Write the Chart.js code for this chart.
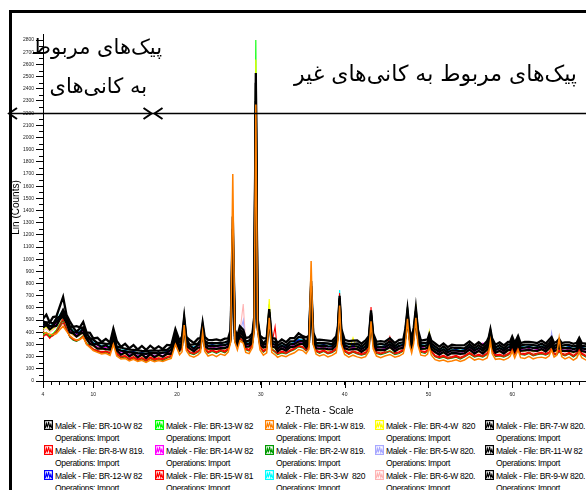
<!DOCTYPE html>
<html>
<head>
<meta charset="utf-8">
<script src="https://cdn.jsdelivr.net/npm/chart.js@4.4.1/dist/chart.umd.min.js"></script>
<style>
  html, body { margin: 0; padding: 0; width: 586px; height: 490px; overflow: hidden; background: #fff; }
  #frame { position: absolute; left: 9px; top: 10px; width: 640px; height: 520px;
           border-left: 3px solid #000; border-top: 3px solid #000; }
  #plot { position: absolute; left: 0; top: 0; }
  .fa { position: absolute; font-family: "DejaVu Sans", sans-serif; font-size: 21px;
        direction: rtl; white-space: nowrap; color: #000; line-height: 1; }
  .lg { position: absolute; font-family: "Liberation Sans", Arial, sans-serif; font-size: 8.5px;
        letter-spacing: -0.35px; line-height: 12.5px; color: #000; white-space: pre; }
  .lg svg { position: absolute; left: 0; top: 0; }
  .lg .txt { position: absolute; left: 11px; top: 0; }
</style>
</head>
<body>
<div id="frame"></div>
<canvas id="plot" width="596" height="420"></canvas>
<div class="fa" id="noteLeft1" style="right:424px; top:37px;">پیک‌های مربوط</div>
<div class="fa" id="noteLeft2" style="right:439px; top:76px;">به کانی‌های</div>
<div class="fa" id="noteRight" style="right:9px; top:63px; font-size:22px;">پیک‌های مربوط به کانی‌های غیر</div>
<div id="legend"></div>
<script>
// 2-theta positions (degrees) shared by every scan
const twoTheta = [
  4.0,4.4,4.8,5.2,5.6,6.0,6.4,6.8,7.2,7.6,
  8.0,8.4,8.8,9.2,9.6,10.0,10.5,11.0,11.5,12.0,
  12.4,12.8,13.3,13.8,14.3,14.8,15.3,15.8,16.3,16.8,
  17.3,17.8,18.3,18.8,19.3,19.8,20.3,20.6,20.85,21.1,
  21.5,22.0,22.5,22.8,23.05,23.3,23.7,24.2,24.7,25.2,
  25.7,26.1,26.4,26.65,26.9,27.2,27.5,27.9,28.2,28.6,
  29.0,29.2,29.4,29.6,29.9,30.3,30.7,31.0,31.3,31.7,
  32.0,32.5,33.0,33.5,34.0,34.5,35.0,35.4,35.75,36.0,
  36.25,36.6,37.0,37.5,38.0,38.5,39.0,39.2,39.4,39.6,
  40.0,40.5,41.0,41.5,42.0,42.5,42.9,43.15,43.4,43.8,
  44.3,44.8,45.4,46.0,46.5,47.0,47.25,47.5,47.75,48.0,
  48.25,48.5,48.75,49.1,49.6,49.9,50.1,50.35,50.8,51.3,
  51.8,52.3,52.8,53.3,53.8,54.3,54.9,55.5,56.0,56.5,
  57.0,57.2,57.4,57.6,58.0,58.5,59.0,59.5,59.75,60.0,
  60.3,60.7,61.0,61.5,62.0,62.5,63.0,63.5,64.0,64.4,
  64.7,65.0,65.3,65.6,65.9,66.3,66.8,67.3,67.7,68.0,
  68.3,68.8,69.3,70.0
];

// Lin (Counts) for each sample, one value per twoTheta position
const br10 = [
  510,545,480,525,530,610,690,545,490,445, 450,440,485,400,395,350,355,320,345,315,
  430,330,280,305,268,296,258,288,255,290, 262,285,262,296,292,425,330,368,530,362,
  338,312,348,352,480,362,338,336,342,332, 348,350,420,1350,420,372,450,420,352,360,
  392,520,2530,520,372,350,352,590,352,348, 312,342,318,352,352,392,368,358,372,820,
  400,338,340,336,332,328,368,450,700,430, 338,328,332,334,306,334,370,580,390,322,
  328,322,352,312,338,342,430,590,420,352, 440,600,420,332,338,342,385,332,308,282,
  308,278,298,292,292,294,325,292,318,292, 328,360,425,350,298,318,292,322,322,365,
  312,370,312,322,322,318,312,332,308,338, 360,312,322,345,312,318,318,306,314,355,
  312,306,302,300
];
const br13 = [
  380,400,370,390,420,470,520,440,370,345, 335,350,375,310,290,262,250,238,245,232,
  330,225,200,205,182,196,175,188,170,190, 176,185,178,196,205,330,248,270,540,275,
  238,226,245,265,390,275,238,250,236,252, 242,265,325,1200,325,285,355,330,266,255,
  305,460,2800,460,285,245,265,630,268,246, 225,240,230,250,265,290,280,255,285,720,
  305,250,235,250,230,240,265,355,650,335, 250,226,245,230,220,230,275,500,295,236,
  225,236,250,226,236,255,335,540,325,265, 345,560,325,245,236,255,330,245,205,195,
  205,190,196,205,190,205,230,205,215,205, 225,265,330,255,210,215,205,220,235,270,
  225,275,226,220,235,215,225,230,220,235, 265,225,220,250,226,215,230,205,225,260,
  225,205,215,200
];
const br1 = [
  400,395,385,380,390,420,450,410,370,350, 335,340,360,300,275,250,235,222,228,210,
  300,205,180,185,165,178,160,170,152,172, 158,168,160,175,185,300,215,240,460,250,
  208,196,215,235,400,245,205,218,200,222, 210,238,320,1700,320,255,330,310,235,225,
  275,420,2270,420,255,212,232,520,235,215, 195,210,200,218,232,258,250,225,262,985,
  300,220,205,218,198,210,232,330,620,300, 218,195,212,198,190,200,245,490,265,205,
  192,205,218,195,205,225,300,510,295,230, 310,520,295,212,205,222,280,212,175,165,
  172,158,165,175,160,172,200,172,182,172, 190,232,330,225,178,182,172,188,202,245,
  190,255,192,185,202,182,192,196,188,205, 255,196,210,353,200,182,196,172,190,235,
  192,172,180,165
];
const br4 = [
  425,445,415,430,455,500,525,465,400,380, 368,378,400,338,312,286,272,260,266,252,
  348,246,220,226,206,218,198,210,192,212, 198,206,200,216,228,345,265,285,480,295,
  258,246,266,282,400,292,256,270,256,272, 262,286,345,1120,345,305,380,355,286,276,
  326,450,2640,450,305,268,286,673,286,268, 248,262,254,272,286,310,302,278,306,730,
  326,272,258,272,252,262,286,380,660,355, 272,248,355,252,242,252,296,530,316,258,
  248,258,272,248,258,276,356,530,346,288, 380,632,380,268,258,300,405,290,232,222,
  232,218,224,232,218,232,256,232,240,232, 248,288,356,278,236,240,232,244,258,296,
  248,298,250,244,258,240,250,254,244,258, 288,250,244,272,250,240,254,232,248,284,
  250,232,240,226
];
const br7 = [
  490,480,485,470,515,530,585,530,450,440, 405,432,440,392,352,338,312,312,305,306,
  395,282,275,265,258,255,252,248,246,250, 252,248,255,255,282,390,318,328,505,352,
  298,300,308,338,455,332,312,310,310,312, 318,328,395,1250,395,358,420,395,322,333,
  365,495,2450,495,358,308,340,565,328,320, 288,315,292,326,328,362,356,318,360,780,
  372,310,312,310,308,302,342,425,680,405, 310,305,305,308,282,308,345,560,365,298,
  304,298,326,288,312,318,405,565,395,342, 410,575,395,308,312,318,360,308,285,258,
  284,255,276,270,270,268,302,270,294,268, 304,335,405,325,275,294,268,300,298,340,
  288,345,290,298,298,295,290,308,285,312, 335,288,298,320,290,294,294,284,290,330,
  288,284,280,278
];
const br8 = [
  360,390,350,380,410,460,510,430,365,340, 330,345,370,305,285,258,246,234,240,228,
  325,222,195,202,178,192,172,184,165,186, 172,182,175,192,202,325,245,265,500,270,
  234,222,240,262,385,270,234,248,232,250, 238,262,322,1180,322,280,350,325,262,250,
  300,455,2400,455,280,240,262,590,262,242, 222,236,226,246,262,286,276,250,280,730,
  300,246,232,246,226,236,262,350,722,330, 246,222,240,226,216,226,272,607,290,232,
  222,232,246,222,232,250,330,560,322,262, 340,560,322,242,232,250,322,240,202,192,
  202,186,192,202,186,202,226,202,210,202, 222,262,326,250,206,210,202,216,230,266,
  222,270,222,216,230,210,222,226,216,230, 262,222,216,246,222,210,226,202,222,256,
  222,202,210,196
];
const br14 = [
  440,460,425,445,470,515,540,480,415,392, 380,390,412,350,322,296,282,270,276,262,
  360,256,230,236,215,228,206,218,200,222, 208,216,210,226,238,355,275,295,470,305,
  268,256,276,292,415,302,266,280,266,282, 272,296,355,1100,355,315,385,360,296,286,
  336,455,2300,455,315,278,296,530,296,278, 258,272,264,282,296,320,312,288,316,750,
  336,282,268,282,262,272,296,385,650,365, 282,258,278,262,252,262,305,530,325,268,
  258,268,282,258,268,286,365,530,355,298, 375,540,355,278,268,286,325,278,240,230,
  240,226,232,240,226,240,265,240,248,312, 258,298,365,288,244,248,240,254,268,304,
  258,308,260,254,268,250,260,264,254,268, 298,260,254,282,260,250,264,240,258,294,
  260,240,250,236
];
const br2 = [
  370,385,360,375,400,450,500,425,360,335, 325,340,365,300,280,255,242,230,236,222,
  322,218,190,198,172,188,165,180,160,182, 166,176,168,186,198,320,240,262,520,265,
  228,216,236,255,380,265,228,242,226,244, 232,256,318,1150,318,276,345,320,256,245,
  296,450,2350,450,276,236,256,600,258,236, 216,230,222,242,256,280,272,246,276,700,
  296,242,226,242,222,232,256,345,640,325, 242,218,236,222,212,222,266,520,286,226,
  216,226,242,216,226,246,330,607,318,256, 336,580,318,236,226,246,320,236,198,186,
  196,182,188,196,180,196,222,196,206,196, 216,256,320,246,200,206,196,212,226,262,
  216,266,218,212,226,206,216,222,212,226, 256,216,212,242,218,206,222,196,216,252,
  216,196,206,192
];
const br5 = [
  430,450,420,435,460,505,530,470,405,385, 372,382,405,342,316,290,276,264,270,256,
  352,250,225,230,210,222,200,212,196,216, 202,210,205,220,232,350,270,290,465,300,
  262,250,270,286,405,296,260,275,260,276, 266,290,350,1080,350,315,390,500,290,280,
  330,445,2000,445,310,272,290,520,290,272, 252,266,258,276,290,314,306,282,310,740,
  330,276,262,276,256,266,290,380,640,360, 276,252,272,256,246,256,300,520,320,262,
  252,262,276,252,262,280,360,525,350,292, 370,535,350,272,262,280,320,272,235,225,
  235,220,226,235,220,235,260,235,242,235, 252,292,360,282,238,242,235,248,262,300,
  252,302,254,248,262,244,254,258,248,262, 397,254,248,276,254,244,258,235,252,288,
  254,235,244,230
];
const br11 = [
  462,478,448,458,488,512,555,492,438,402, 400,394,430,358,340,304,300,280,294,270,
  380,262,250,244,236,234,228,226,224,230, 230,226,234,234,258,370,284,316,480,314,
  290,266,296,299,430,312,288,289,286,292, 294,306,370,1150,370,324,400,375,304,306,
  344,470,2300,470,324,298,304,540,306,298, 266,291,270,301,304,324,331,296,336,740,
  350,290,288,290,284,282,316,400,660,380, 290,281,284,284,262,284,322,540,345,276,
  278,276,302,266,288,294,380,540,372,306, 385,550,372,286,288,294,340,286,261,239,
  260,234,252,250,246,248,280,249,270,248, 280,312,385,302,254,270,248,276,278,320,
  268,320,270,274,278,272,270,284,264,290, 315,268,276,298,270,270,272,262,268,310,
  268,262,258,256
];
const br12 = [
  455,475,445,460,485,530,560,500,430,405, 392,405,430,362,338,312,298,286,292,278,
  378,272,246,252,230,244,222,234,216,238, 224,232,226,244,254,372,292,312,480,322,
  286,274,294,310,430,320,284,298,284,300, 290,314,372,1150,372,334,405,380,314,302,
  352,472,2200,472,334,296,314,545,314,296, 276,290,282,300,314,338,330,306,334,760,
  352,300,286,300,280,290,314,400,680,384, 300,276,296,280,270,280,325,545,345,286,
  276,286,300,276,286,304,385,545,375,316, 392,555,375,296,286,304,345,296,258,248,
  258,244,250,258,244,258,282,258,266,258, 276,316,385,306,262,266,258,272,286,322,
  276,326,278,272,286,268,278,282,272,286, 316,278,272,300,278,268,282,258,276,312,
  278,258,268,254
];
const br15 = [
  375,380,360,372,395,440,480,420,362,342, 334,342,362,305,288,262,250,240,245,234,
  330,230,202,208,186,200,180,192,176,196, 182,190,184,200,212,330,252,272,505,278,
  240,230,248,268,390,276,242,255,240,258, 246,268,330,1150,330,288,355,330,270,258,
  308,440,2150,440,288,250,270,580,300,446, 230,245,235,255,270,292,282,258,288,740,
  308,255,240,255,235,245,270,360,690,340, 255,230,248,235,225,235,280,560,298,240,
  230,240,364,230,240,258,338,545,330,270, 348,545,330,250,240,258,330,250,210,200,
  210,195,200,210,195,210,235,210,220,210, 230,270,335,258,215,220,210,225,238,275,
  230,278,230,225,238,220,230,235,225,238, 270,230,225,255,230,220,235,210,230,265,
  230,210,220,205
];
const br3 = [
  465,480,450,470,495,545,580,510,440,415, 400,412,438,370,345,318,304,292,298,284,
  385,278,252,258,236,250,228,240,222,244, 230,238,232,250,260,380,298,318,490,328,
  292,280,300,316,440,326,290,304,290,306, 296,320,380,1200,380,340,410,386,320,308,
  358,480,2100,480,340,302,320,555,320,302, 282,296,288,306,320,344,336,312,340,790,
  358,306,292,306,286,296,320,420,747,400, 306,282,302,286,276,286,332,550,352,292,
  282,292,306,282,292,310,392,555,382,322, 400,565,382,302,292,310,352,302,264,254,
  264,250,256,264,250,264,288,264,272,264, 282,322,392,312,268,272,264,278,292,328,
  282,332,284,278,292,274,284,288,278,292, 322,284,278,306,284,274,288,264,282,318,
  284,264,274,260
];
const br6 = [
  410,430,400,420,445,490,515,455,392,372, 360,370,392,330,305,280,266,254,260,246,
  342,240,215,220,200,212,192,204,186,206, 192,200,195,210,222,340,260,280,455,290,
  252,240,260,276,395,286,250,265,250,266, 256,280,340,1050,345,330,400,632,300,270,
  320,430,1900,430,300,262,280,510,280,262, 242,256,248,266,280,304,296,272,300,720,
  320,266,252,266,246,256,280,370,630,350, 266,242,262,246,236,246,290,510,310,252,
  242,252,266,242,252,270,350,515,340,282, 360,525,340,262,252,270,310,262,225,215,
  225,210,216,225,210,225,250,225,232,225, 242,282,350,272,228,232,225,238,252,290,
  242,292,244,238,252,234,244,248,238,252, 282,244,238,266,244,234,248,225,242,278,
  244,225,234,220
];
const br9 = [
  438,462,424,446,454,506,530,476,399,391, 366,386,399,346,306,294,266,268,262,258,
  350,251,216,234,202,224,194,218,190,221, 196,216,199,224,224,345,259,291,455,292,
  268,244,274,276,405,289,266,266,264,269, 271,282,345,1050,345,299,375,350,282,284,
  322,445,2200,445,302,276,282,515,284,276, 244,268,249,278,282,302,308,274,314,700,
  328,268,266,268,262,260,294,378,640,358, 268,258,262,262,240,262,300,520,322,254,
  256,254,280,244,266,272,358,520,350,284, 362,525,350,264,266,272,318,264,238,216,
  238,212,230,228,224,226,258,226,248,226, 258,290,362,280,232,248,226,254,256,298,
  246,298,248,252,256,250,248,262,242,268, 292,246,254,276,248,248,250,240,246,288,
  246,240,236,234
];

// Legend order (row by row, five columns)
const seriesNames = [
  'BR-10-W 82', 'BR-13-W 82', 'BR-1-W 819.', 'BR-4-W  820', 'BR-7-W 820.',
  'BR-8-W 819.', 'BR-14-W 82', 'BR-2-W 819.', 'BR-5-W 820.', 'BR-11-W 82',
  'BR-12-W 82', 'BR-15-W 81', 'BR-3-W  820', 'BR-6-W 820.', 'BR-9-W 820.'
];
const seriesCounts = [br10, br13, br1, br4, br7, br8, br14, br2, br5, br11, br12, br15, br3, br6, br9];
const seriesColors = [
  '#000000', '#00ff00', '#ff8000', '#ffff00', '#000000',
  '#ff0000', '#ff00ff', '#009a00', '#a8a8ff', '#000000',
  '#0000ff', '#ff0000', '#00ffff', '#ffb4b4', '#000000'
];
// lower layer value = drawn later (on top)
const seriesLayer = [1, 3, 0, 1.5, 1, 2, 2, 2, 2, 1, 2, 2, 2, 2, 1];

const yTickLabels = [0, 100, 200, 300, 400, 500, 600, 700, 800, 900, 1000, 1100, 1200, 1300, 1400,
  1500, 1600, 1700, 1800, 1900, 2000, 2100, 2200, 2300, 2400, 2500, 2600, 2700, 2800];
const xTickLabels = [4, 10, 20, 30, 40, 50, 60, 70];

// horizontal guide separating the two marked ranges
const guideCounts = 2200;
const boundaryTwoTheta = 17.25;

const datasets = seriesNames.map((name, i) => ({
  label: 'Malek - File: ' + name,
  data: twoTheta.map((t, k) => ({ x: t, y: seriesCounts[i][k] })),
  borderColor: seriesColors[i],
  borderWidth: seriesColors[i] === '#000000' ? 2.3 : (seriesLayer[i] === 0 ? 1.5 : 1.1),
  pointRadius: 0,
  tension: 0,
  fill: false,
  order: seriesLayer[i]
}));

const axisDecor = {
  id: 'axisDecor',
  afterDraw(chart) {
    const { ctx, scales: { x, y } } = chart;
    ctx.save();
    ctx.strokeStyle = '#000';
    ctx.lineWidth = 1;
    // longer marks at the labelled 2-theta values
    const xb = Math.round(y.getPixelForValue(0));
    xTickLabels.forEach(v => {
      const px = Math.round(x.getPixelForValue(v)) + 0.5;
      ctx.beginPath(); ctx.moveTo(px, xb); ctx.lineTo(px, xb + 7); ctx.stroke();
    });
    // short marks between the labelled count values
    const ax = Math.round(x.getPixelForValue(4));
    for (let v = 50; v < 2850; v += 100) {
      const py = Math.round(y.getPixelForValue(v)) + 0.5;
      ctx.beginPath(); ctx.moveTo(ax - 4, py); ctx.lineTo(ax, py); ctx.stroke();
    }
    // guide line with arrowheads
    const gy = Math.round(y.getPixelForValue(guideCounts)) + 0.5;
    const split = x.getPixelForValue(boundaryTwoTheta);
    ctx.lineWidth = 1.6;
    ctx.beginPath(); ctx.moveTo(10, gy); ctx.lineTo(chart.width, gy); ctx.stroke();
    const head = (tipX, dir) => {
      ctx.beginPath();
      ctx.moveTo(tipX + dir * 8, gy - 5.5);
      ctx.lineTo(tipX, gy);
      ctx.lineTo(tipX + dir * 8, gy + 5.5);
      ctx.stroke();
    };
    ctx.lineWidth = 2;
    head(9, 1);
    head(split - 2.5, -1);
    head(split + 0.5, 1);
    ctx.restore();
  }
};

new Chart(document.getElementById('plot'), {
  type: 'line',
  data: { datasets },
  options: {
    responsive: false,
    animation: false,
    devicePixelRatio: 1,
    layout: { padding: { left: 0, top: 34, right: 0, bottom: 0 } },
    plugins: { legend: { display: false }, tooltip: { enabled: false } },
    scales: {
      x: {
        type: 'linear',
        min: 4, max: 70,
        afterFit(scale) { scale.height = 39; scale.paddingLeft = 0; scale.paddingRight = 0; },
        grid: { drawOnChartArea: false, tickLength: 4, tickColor: '#000', tickWidth: 1 },
        border: { display: true, color: '#000', width: 1 },
        ticks: {
          stepSize: 1, autoSkip: false, maxRotation: 0, padding: 7,
          color: '#222', font: { family: 'Liberation Sans', size: 5 },
          callback: v => xTickLabels.includes(v) ? String(v) : ''
        },
        title: {
          display: true, text: '2-Theta - Scale', color: '#000',
          font: { family: 'Liberation Sans', size: 10 },
          padding: { top: 0, bottom: 3 }
        }
      },
      y: {
        min: 0, max: 2850,
        afterFit(scale) { scale.width = 43; scale.paddingTop = 0; scale.paddingBottom = 0; },
        grid: {
          drawOnChartArea: false, tickLength: 7, tickWidth: 1,
          tickColor: c => yTickLabels.includes(c.tick.value) ? '#000' : 'rgba(0,0,0,0)'
        },
        border: { display: true, color: '#000', width: 1 },
        ticks: {
          stepSize: 50, autoSkip: false, padding: 2,
          color: '#222', font: { family: 'Liberation Sans', size: 5 },
          callback: v => yTickLabels.includes(v) ? String(v) : ''
        },
        title: {
          display: true, text: 'Lin (Counts)', color: '#000',
          font: { family: 'Liberation Sans', size: 10 },
          padding: { top: 10, bottom: 0 }
        }
      }
    }
  },
  plugins: [axisDecor]
});

// legend: five columns, three rows, two text lines per entry
const legend = document.getElementById('legend');
const colX = [44, 155, 265, 375, 485];
seriesNames.forEach((name, i) => {
  const item = document.createElement('div');
  item.className = 'lg';
  item.style.left = colX[i % 5] + 'px';
  item.style.top = (419.5 + Math.floor(i / 5) * 25) + 'px';
  const c = seriesColors[i];
  item.innerHTML =
    '<svg width="9" height="10" viewBox="0 0 9 10">' +
    '<rect x="0.6" y="0.6" width="7.8" height="8.8" fill="#fff" stroke="' + c + '" stroke-width="1.2"/>' +
    '<polyline points="1.2,8 2.4,3.5 3.4,7.5 4.6,1.8 5.8,7.5 6.8,4.5 7.8,8" fill="none" stroke="' + c + '" stroke-width="1.1"/>' +
    '</svg>' +
    '<div class="txt"></div>';
  item.querySelector('.txt').textContent = 'Malek - File: ' + name + '\nOperations: Import';
  legend.appendChild(item);
});
</script>
</body>
</html>
